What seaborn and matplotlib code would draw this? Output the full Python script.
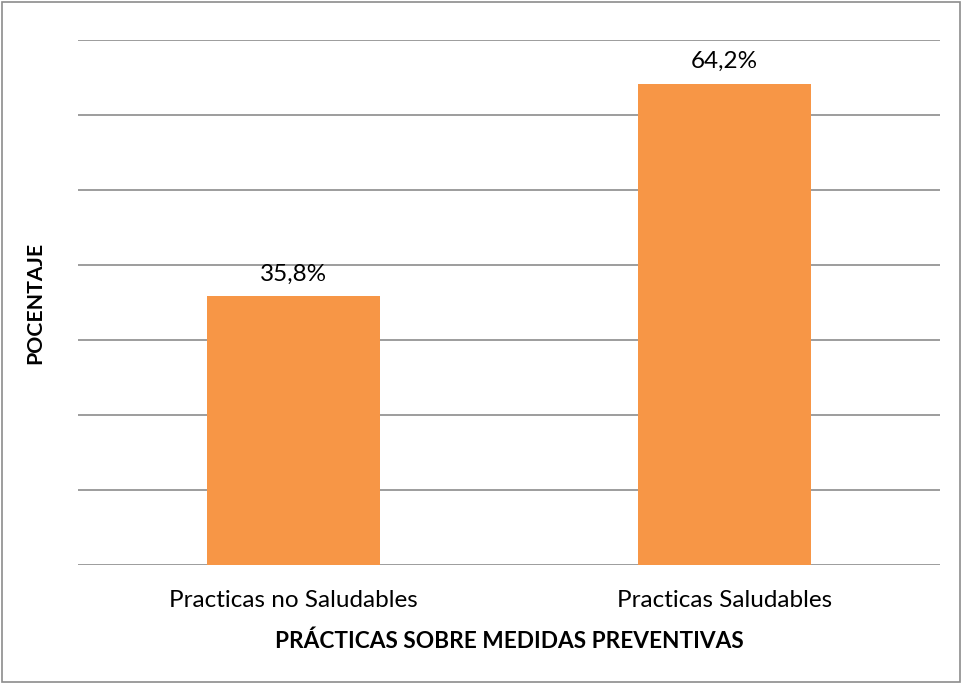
import matplotlib
matplotlib.use("Agg")
import matplotlib.pyplot as plt
import pandas as pd
import seaborn as sns
from matplotlib.patches import Rectangle

categories = ["Practicas no Saludables", "Practicas Saludables"]
values = [35.8, 64.2]
labels = ["35,8%", "64,2%"]

sns.set_style("white")
plt.rcParams["font.family"] = ["Lato", "DejaVu Sans"]
plt.rcParams["text.color"] = "black"
plt.rcParams["axes.labelcolor"] = "black"
plt.rcParams["xtick.color"] = "black"

df = pd.DataFrame({"categoria": categories, "porcentaje": values})

fig = plt.figure(figsize=(9.63, 6.84), dpi=100)
ax = fig.add_axes([0.081, 0.174, 0.895, 0.7675])

sns.barplot(data=df, x="categoria", y="porcentaje", color="#F79646",
            saturation=1, width=0.4, linewidth=0, ax=ax, zorder=3)

ax.set_ylim(0, 70)
ax.set_yticks(range(0, 71, 10))
ax.set_yticklabels([])
ax.yaxis.grid(True, color="#8c8c8c", linewidth=1.2, zorder=0)
ax.tick_params(axis="both", length=0)
ax.tick_params(axis="x", labelsize=17.5, pad=18)
for s in ax.spines.values():
    s.set_visible(False)

for i, (v, t) in enumerate(zip(values, labels)):
    ax.text(i, v + 2.9, t, ha="center", va="center", fontsize=17.5)

ax.set_xlabel("PRÁCTICAS SOBRE MEDIDAS PREVENTIVAS", fontsize=16.3,
              fontweight="bold", labelpad=14)
ax.set_ylabel("POCENTAJE", fontsize=15.3, fontweight="bold", labelpad=20)

fig.patches.append(Rectangle((0.002, 0.003), 0.995, 0.994,
                             transform=fig.transFigure, fill=False,
                             edgecolor="#8c8c8c", linewidth=1.2))

fig.savefig("out.png", dpi=100)
